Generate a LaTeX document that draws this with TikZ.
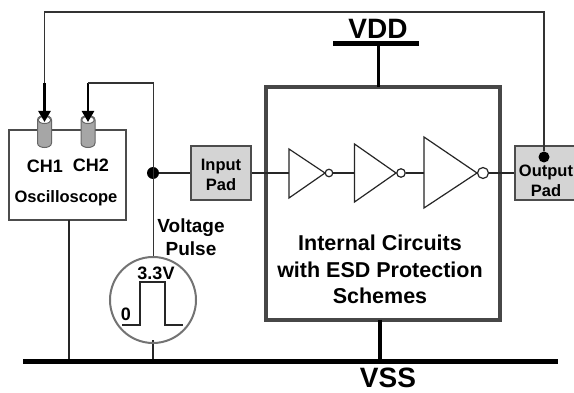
\documentclass[tikz,border=0pt]{standalone}
\usepackage{fontspec}
\setmainfont{Liberation Sans}
\usetikzlibrary{arrows.meta,calc}
\tikzset{
 x=1pt,y=-1pt,
 wire/.style={draw=black!85,line width=1.5pt},
 thinwire/.style={draw=black!80,line width=1.5pt},
 rail/.style={draw=black,line width=5pt},
 pad/.style={draw=black!70,fill=black!17,line width=1.5pt,minimum width=60pt,minimum height=54pt,inner sep=0pt},
 padlbl/.style={font=\fontsize{16.5}{20}\selectfont\bfseries,inner sep=0pt,align=center},
 scopebox/.style={draw=black!70,line width=2pt,minimum width=117pt,minimum height=90pt,inner sep=0pt},
 chipbox/.style={draw=black!72,line width=4pt,minimum width=234pt,minimum height=233pt,inner sep=0pt},
 probe/.style={-{Triangle[length=11pt,width=12pt]},draw=black,line width=2.5pt,shorten >=0pt},
 junction/.style={circle,fill=black,minimum size=12pt,inner sep=0pt},
 bubble/.style={circle,draw=black!85,fill=white,line width=1.2pt,inner sep=0pt},
 invtri/.style={draw=black!85,line width=1.2pt,fill=white},
 lbl/.style={font=\fontsize{18}{22}\selectfont\bfseries,inner sep=0pt,align=center},
 biglbl/.style={font=\fontsize{21.5}{26.5}\selectfont\bfseries,inner sep=0pt,align=center},
 raillbl/.style={font=\fontsize{28}{30}\selectfont\bfseries,inner sep=0pt},
}
\newcommand{\cyl}[2]{%
 \draw[draw=black!60,fill=black!35,line width=1pt] (#1-7,#2) -- (#1-7,#2+23) .. controls (#1-7,#2+29) and (#1+7,#2+29) .. (#1+7,#2+23) -- (#1+7,#2)
   .. controls (#1+7,#2-6) and (#1-7,#2-6) .. (#1-7,#2) -- cycle;
 \draw[draw=black!60,fill=white,line width=1pt] (#1,#2) ellipse [x radius=6.5pt,y radius=3.5pt];
}
\begin{document}
\begin{tikzpicture}
\useasboundingbox[fill=white] (0,0) rectangle (574,393);
% rails and boxes
\node[scopebox] (scope) at (67.5,175) {};
\node[chipbox] (chip) at (383,203.5) {};
\coordinate (vddL) at (333,44); \coordinate (vddR) at (419,44);
\coordinate (vssL) at (23,362); \coordinate (vssR) at (558,362);
\coordinate (vddT) at (378.5,44); \coordinate (vddB) at (378.5,87);
\coordinate (vssC) at (380,362); \coordinate (chipB) at (380,320);
\coordinate (scopeB) at (69,220); \coordinate (scopeV) at (69,362);
\coordinate (pulseV) at (153,362);
\draw[wire] (scopeB) -- (scopeV);
\draw[wire] (pulseV) -- (153,340);
\draw[draw=black,line width=3.5pt] (vddT) -- (vddB);
\draw[draw=black,line width=3.5pt] (chipB) -- (vssC);
\draw[rail] (vddL) -- (vddR);
\draw[rail] (vssL) -- (vssR);
\node[raillbl] (vddlbl) at (378,29) {VDD};
\node[raillbl] (vsslbl) at (388,378) {VSS};
% pads
\node[pad] (ipad) at (221,173) {};
\node[pad] (opad) at (545,173) {};
\node[padlbl] (iplbl) at (221,175) {Input\\Pad};
\node[padlbl] (oplbl) at (546,180.5) {Output\\Pad};
% probes
\cyl{44.5}{120}
\cyl{88}{120}
\node[junction] (jin) at (153,173) {};
\node[junction,minimum size=11pt] (jout) at (544,157) {};
\coordinate (ch1) at (44.5,122);
\coordinate (ch2) at (88,122);
\coordinate (ch1t) at (44.5,83);
\coordinate (ch2t) at (88,83);
\draw[thinwire] (jout) -- (544,12) -- (44.5,12) -- (ch1t);
\draw[probe] (ch1t) -- (ch1);
\draw[probe] (ch2t) -- (ch2);
\draw[thinwire] (ch2t) -- (153.5,83) -- (153.5,258);
\draw[wire] (jin) -- (ipad);
% scope labels
\node[lbl] (c1) at (45,166) {CH1};
\node[lbl] (c2) at (91,165) {CH2};
\node[font=\fontsize{16.5}{18}\selectfont\bfseries,inner sep=0pt] (osc) at (66,198) {Oscilloscope};
% pulse
\node[circle,draw=black!55,line width=2pt,minimum size=86pt,inner sep=0pt] (pulse) at (153,300) {};
\draw[draw=black!85,line width=1.3pt] (122,325) -- (140,325) -- (140,282) -- (165,282) -- (165,325) -- (183,325);
\node[lbl] (v33) at (156,273) {3.3V};
\node[lbl] (zero) at (126,314) {0};
\node[lbl,font=\fontsize{19}{23}\selectfont\bfseries] (vp) at (191,237.5) {Voltage\\Pulse};
% inverters
\draw[invtri] (289,149) coordinate (i1) -- (325,173) coordinate (i1t) -- (289,198) -- cycle;
\node[bubble,minimum size=7.5pt] (b1) at (329,173) {};
\draw[invtri] (354.5,144) -- (396,173) -- (354.5,202) -- cycle;
\node[bubble,minimum size=8.5pt] (b2) at (401,173) {};
\draw[invtri] (424,137) -- (477,173) -- (424,208) -- cycle;
\node[bubble,minimum size=11pt] (b3) at (483,173) {};
\coordinate (i1in) at (289,173);
\coordinate (i2in) at (354.5,173);
\coordinate (i3in) at (424,173);
\draw[wire] (ipad) -- (i1in);
\draw[wire] (b1) -- (i2in);
\draw[wire] (b2) -- (i3in);
\draw[wire] (b3) -- (opad);
\node[biglbl] (chiplbl) at (380,269.5) {Internal Circuits\\with ESD Protection\\Schemes};
\end{tikzpicture}
\end{document}
